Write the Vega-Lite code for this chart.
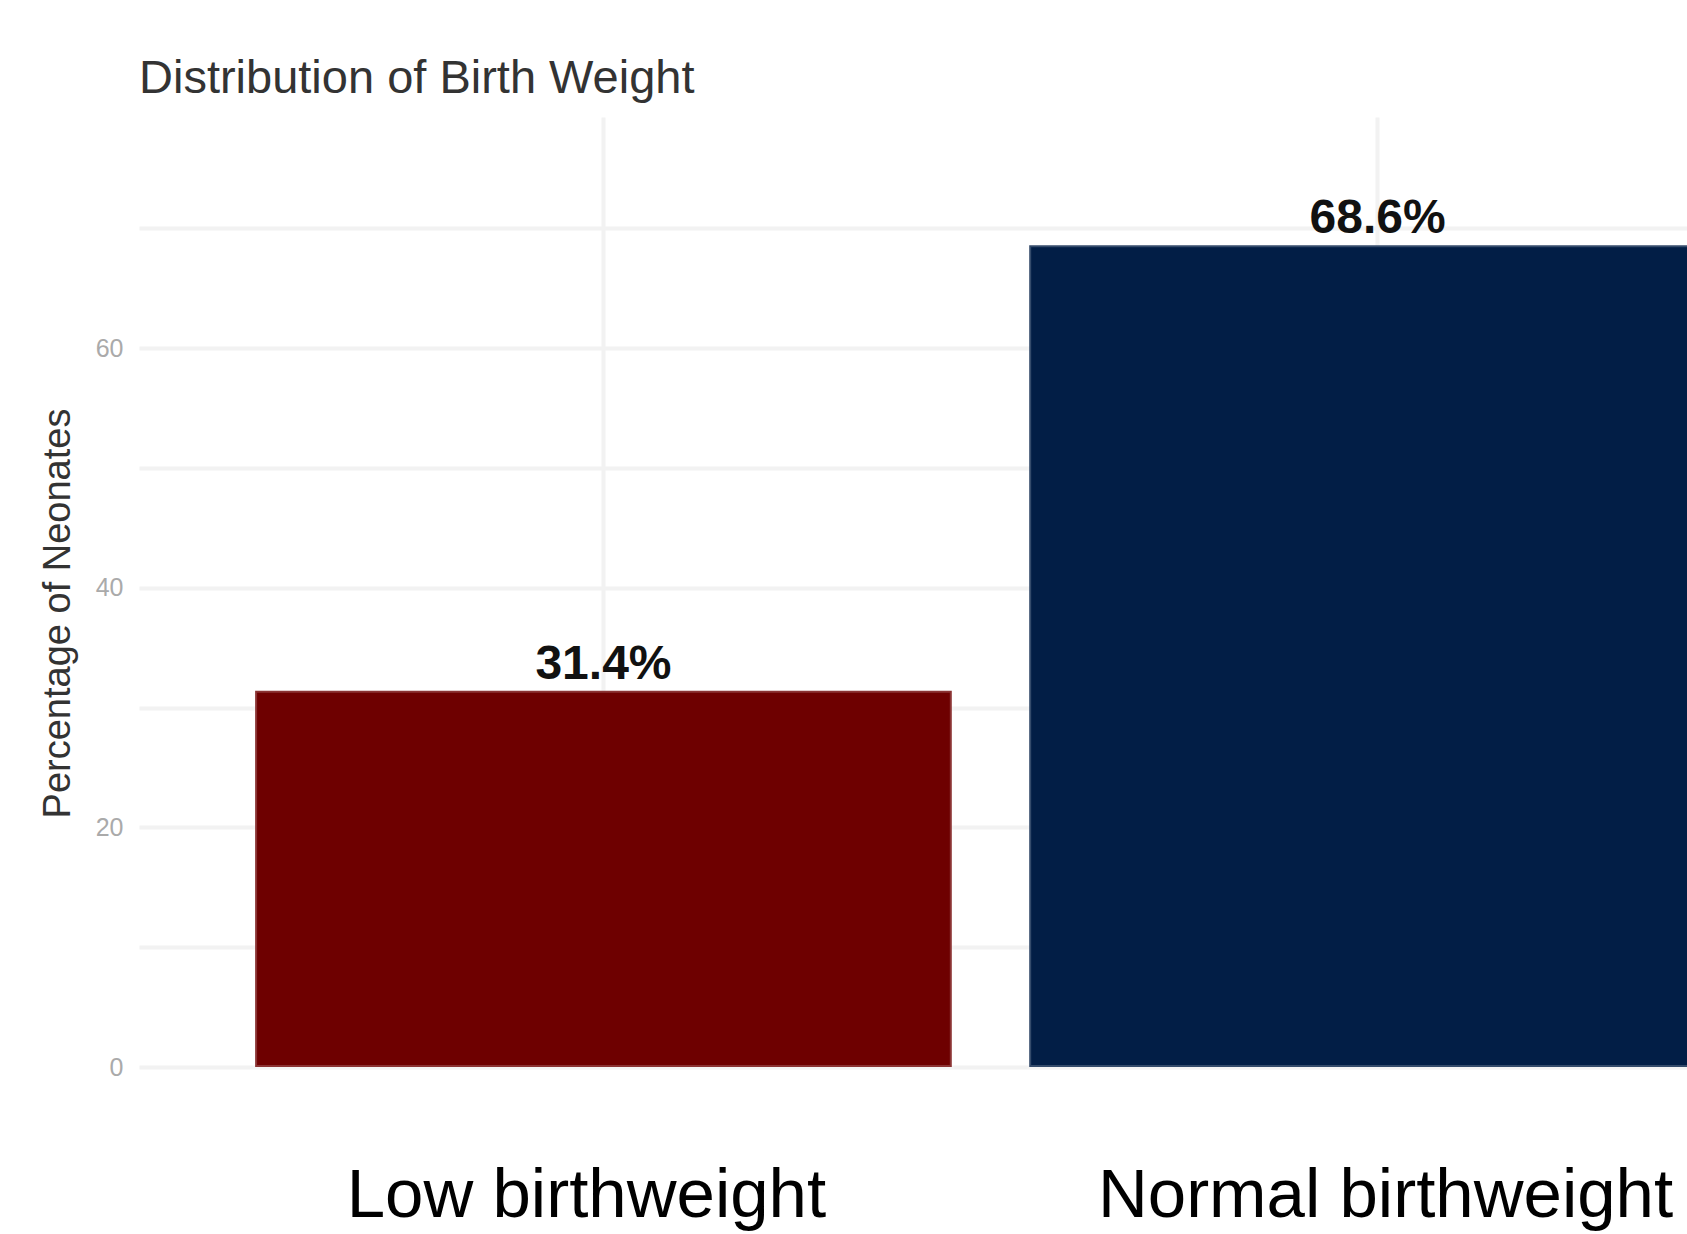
{
  "$schema": "https://vega.github.io/schema/vega-lite/v6.json",
  "width": 1548,
  "height": 950,
  "autosize": {"type": "none"},
  "padding": {"left": 139, "top": 117, "right": 0, "bottom": 167},
  "background": "white",
  "title": {
    "text": "Distribution of Birth Weight",
    "anchor": "start",
    "frame": "group",
    "fontSize": 47,
    "font": "Liberation Sans",
    "fontWeight": "normal",
    "color": "#333333",
    "baseline": "alphabetic",
    "offset": 22,
    "dy": 45
  },
  "data": {
    "values": [
      {"category": "Low birthweight", "pct": 31.4, "label": "31.4%"},
      {"category": "Normal birthweight", "pct": 68.6, "label": "68.6%"}
    ]
  },
  "encoding": {
    "x": {
      "field": "category",
      "type": "nominal",
      "sort": null,
      "scale": {"range": [0, 1703], "paddingInner": 0.1, "paddingOuter": 0.15},
      "axis": {
        "title": null,
        "labelFontSize": 69,
        "labelFont": "Liberation Sans",
        "labelColor": "#000000",
        "ticks": false,
        "domain": false,
        "labelPadding": 94,
        "labelAngle": 0,
        "labelBaseline": "top",
        "labelLimit": 0,
        "labelOffset": {"condition": {"test": "datum.value === 'Low birthweight'", "value": -17}, "value": 8},
        "grid": true,
        "gridColor": "#f2f2f2",
        "gridWidth": 4
      }
    },
    "y": {
      "field": "pct",
      "type": "quantitative",
      "scale": {"domain": [0, 79.3], "nice": false, "zero": false},
      "axis": {
        "title": "Percentage of Neonates",
        "values": [0, 10, 20, 30, 40, 50, 60, 70],
        "labelExpr": "datum.value % 20 === 0 ? datum.label : ''",
        "labelFontSize": 25,
        "labelFont": "Liberation Sans",
        "labelColor": "#aaaaaa",
        "labelPadding": 16,
        "ticks": false,
        "domain": false,
        "grid": true,
        "gridColor": "#f2f2f2",
        "gridWidth": 4,
        "titleFontSize": 38,
        "titleFont": "Liberation Sans",
        "titleFontWeight": "normal",
        "titleColor": "#333333",
        "titleX": -62,
        "titleY": 496,
        "titleAngle": -90,
        "titleBaseline": "bottom",
        "titleAlign": "center"
      }
    }
  },
  "layer": [
    {
      "mark": {"type": "bar", "stroke": "#ffffff", "strokeOpacity": 0.2, "strokeWidth": 4},
      "encoding": {
        "y2": {"datum": 0},
        "color": {
          "field": "category",
          "type": "nominal",
          "sort": null,
          "scale": {"range": ["#6e0000", "#021e46"]},
          "legend": null
        }
      }
    },
    {
      "mark": {
        "type": "text",
        "dy": -12,
        "baseline": "alphabetic",
        "fontSize": 48,
        "fontWeight": "bold",
        "font": "Liberation Sans",
        "color": "#111111"
      },
      "encoding": {"text": {"field": "label"}}
    }
  ],
  "config": {"view": {"stroke": null}}
}
